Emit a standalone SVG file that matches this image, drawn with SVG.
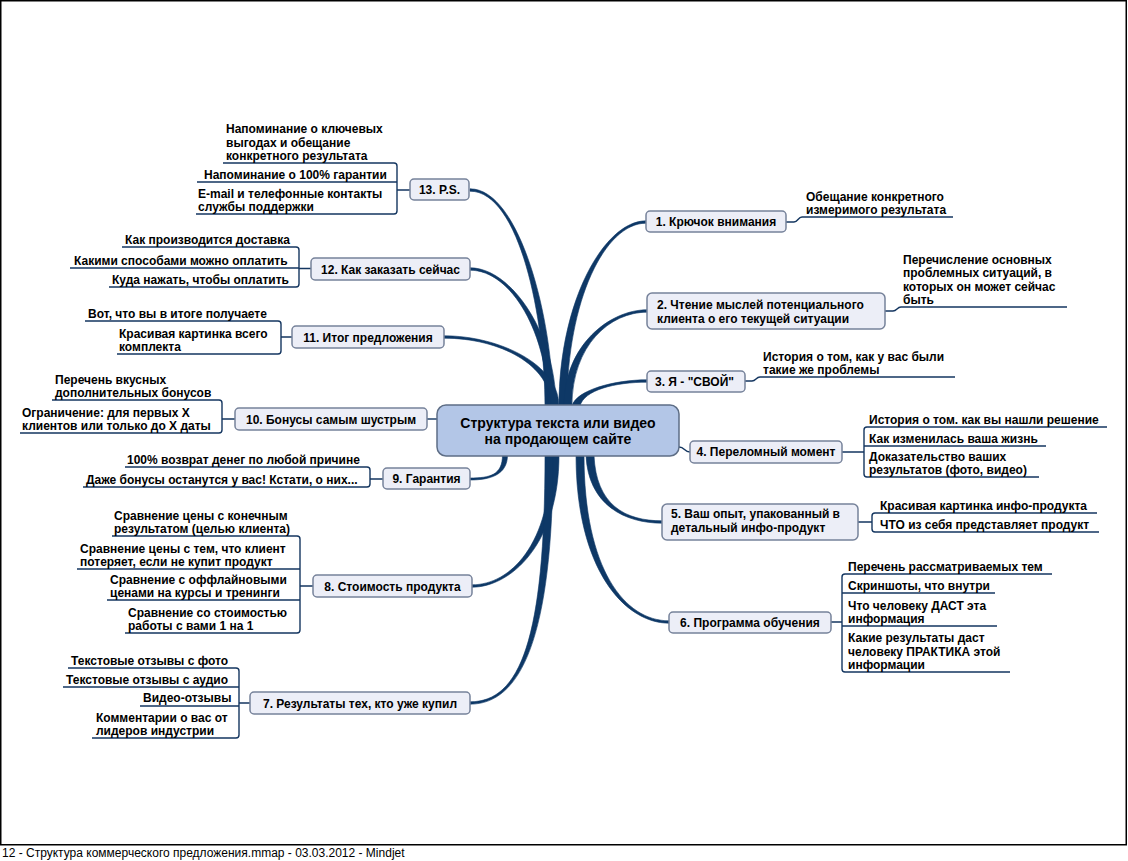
<svg xmlns="http://www.w3.org/2000/svg" width="1128" height="861" viewBox="0 0 1128 861">
<style>
text{font-family:"Liberation Sans",Arial,sans-serif;font-size:12px;font-weight:bold;fill:#000}
.c{text-anchor:middle}
.ctr{font-size:14px}
.foot{font-weight:normal;font-size:12px}
.box{fill:#eceef7;stroke:#76829a;stroke-width:1.5}
.cbox{fill:#b3c6e7;stroke:#5e6e86;stroke-width:1.5}
.ln{fill:none;stroke:#143660;stroke-width:1.4}
.br{fill:#0e3866;stroke:#0e3866;stroke-width:0.6}
</style>
<rect x="0.75" y="0.75" width="1125.5" height="844" fill="#fff" stroke="#000" stroke-width="1.5"/>
<g id="connectors">
<path class="br" d="M545,406 C545,320 520,191.2 470,191.2 L470,188.8 C520,188.8 553,320 553,406 Z"/>
<path class="br" d="M548,406 C548,335 512,270.2 470,270.2 L470,267.8 C512,267.8 556,335 556,406 Z"/>
<path class="br" d="M551,406 C551,365 500,338.2 444,338.2 L444,335.8 C500,335.8 559,365 559,406 Z"/>
<path class="br" d="M559,406 C559,300 605,220.8 646,220.8 L646,223.2 C605,223.2 567,300 567,406 Z"/>
<path class="br" d="M564,406 C564,345 610,309.8 647,309.8 L647,312.2 C610,312.2 572,345 572,406 Z"/>
<path class="br" d="M572,406 C576,390 615,379.8 647,379.8 L647,382.2 C615,382.2 584,390 580,406 Z"/>
<path class="br" d="M559,455 C559,545 510,587.2 472,587.2 L472,584.8 C510,584.8 551,545 551,455 Z"/>
<path class="br" d="M553,455 C553,640 520,704.2 470,704.2 L470,701.8 C520,701.8 545,640 545,455 Z"/>
<path class="br" d="M584,455 C584,570 625,620.8 669,620.8 L669,623.2 C625,623.2 576,570 576,455 Z"/>
<path class="br" d="M594,455 C596,505 625,520.8 662,520.8 L662,523.2 C625,523.2 588,505 586,455 Z"/>
<path class="br" d="M507.5,455 C507.5,475 490,480 470,480 L470,478 C490,478 502.5,475 502.5,455 Z"/>
<path class="ln" stroke-width="2" d="M427,419 H437"/>
<path class="ln" stroke-width="2" d="M679,447 C685,447 684,452 690,452"/>
<path class="ln" d="M223,163 H394 Q397,163 397,166 V211 Q397,214 394,214 H196 M197,182 H397 M397,190 H410"/>
<path class="ln" d="M122,247 H296 Q299,247 299,250 V284 Q299,287 296,287 H109 M70,268 H299 M299,268.5 H311"/>
<path class="ln" d="M85,321 H278 Q281,321 281,324 V351 Q281,354 278,354 H117 M281,337 H292"/>
<path class="ln" d="M52,400 H219 Q222,400 222,403 V430 Q222,433 219,433 H20 M222,419 H235"/>
<path class="ln" d="M125,467 H367 Q370,467 370,470 V484 Q370,487 367,487 H83 M370,479 H383"/>
<path class="ln" d="M112,536 H297 Q300,536 300,539 V630 Q300,633 297,633 H125 M77,569 H300 M107,600 H300 M300,586 H313"/>
<path class="ln" d="M68,668 H236 Q239,668 239,671 V735 Q239,738 236,738 H92 M63,687 H239 M140,706 H239 M239,703 H250"/>
<path class="ln" d="M786,222 H794 C798,222 798,217 802,217 H953"/>
<path class="ln" d="M885,311 H893 C897,311 897,307 901,307 H1067"/>
<path class="ln" d="M745,381 H752 C756,381 756,377 760,377 H955"/>
<path class="ln" d="M1107,427 H867 Q864,427 864,430 V474 Q864,477 867,477 H1039 M864,446 H1046 M842,452 H864"/>
<path class="ln" d="M1097,513 H875 Q872,513 872,516 V529 Q872,532 875,532 H1099 M858,522 H872"/>
<path class="ln" d="M1052,574 H845 Q842,574 842,577 V669 Q842,672 845,672 H1010 M842,593 H995 M842,626 H997 M831,622 H842"/>
</g>
<g id="center">
<rect class="cbox" x="437" y="405" width="242" height="51" rx="9"/>
<text class="c ctr" x="558" y="427.5">Структура текста или видео</text>
<text class="c ctr" x="558" y="443.5">на продающем сайте</text>
</g>
<g id="n1"><rect class="box" x="646" y="211" width="140" height="21" rx="4"/><text class="c" x="716" y="226">1. Крючок внимания</text></g>
<g id="n1s"><text x="806" y="200.5">Обещание конкретного</text><text x="806" y="214">измеримого результата</text></g>
<g id="n2"><rect class="box" x="647" y="293" width="238" height="36" rx="5"/><text x="657" y="309">2. Чтение мыслей потенциального</text><text x="657" y="322.5">клиента о его текущей ситуации</text></g>
<g id="n2s"><text x="903" y="263.5">Перечисление основных</text><text x="903" y="277">проблемных ситуаций, в</text><text x="903" y="290.5">которых он может сейчас</text><text x="903" y="304">быть</text></g>
<g id="n3"><rect class="box" x="647" y="371" width="98" height="21" rx="4"/><text x="655" y="386">3. Я - "СВОЙ"</text></g>
<g id="n3s"><text x="763" y="360.5">История о том, как у вас были</text><text x="763" y="374">такие же проблемы</text></g>
<g id="n4"><rect class="box" x="690" y="441" width="152" height="22" rx="4"/><text class="c" x="766" y="456">4. Переломный момент</text></g>
<g id="n4s"><text x="869" y="424">История о том. как вы нашли решение</text><text x="869" y="443">Как изменилась ваша жизнь</text><text x="869" y="460.5">Доказательство ваших</text><text x="869" y="474">результатов (фото, видео)</text></g>
<g id="n5"><rect class="box" x="662" y="504" width="196" height="36" rx="5"/><text x="671" y="518">5. Ваш опыт, упакованный в</text><text x="671" y="532">детальный инфо-продукт</text></g>
<g id="n5s"><text x="880" y="510">Красивая картинка инфо-продукта</text><text x="880" y="529">ЧТО из себя представляет продукт</text></g>
<g id="n6"><rect class="box" x="669" y="612" width="162" height="21" rx="4"/><text class="c" x="750" y="627">6. Программа обучения</text></g>
<g id="n6s"><text x="848" y="571">Перечень рассматриваемых тем</text><text x="848" y="590">Скриншоты, что внутри</text><text x="848" y="609.5">Что человеку ДАСТ эта</text><text x="848" y="623">информация</text><text x="848" y="642">Какие результаты даст</text><text x="848" y="655.5">человеку ПРАКТИКА этой</text><text x="848" y="669">информации</text></g>
<g id="n7"><rect class="box" x="250" y="692" width="220" height="22" rx="4"/><text class="c" x="360" y="707.5">7. Результаты тех, кто уже купил</text></g>
<g id="n7s"><text x="71" y="665">Текстовые отзывы с фото</text><text x="66" y="684">Текстовые отзывы с аудио</text><text x="143" y="702">Видео-отзывы</text><text x="96" y="721.5">Комментарии о вас от</text><text x="96" y="735">лидеров индустрии</text></g>
<g id="n8"><rect class="box" x="313" y="575" width="159" height="22" rx="4"/><text class="c" x="392.5" y="590.5">8. Стоимость продукта</text></g>
<g id="n8s"><text x="114" y="519.5">Сравнение цены с конечным</text><text x="114" y="533">результатом (целью клиента)</text><text x="80" y="552.5">Сравнение цены с тем, что клиент</text><text x="80" y="566">потеряет, если не купит продукт</text><text x="110" y="583.5">Сравнение с оффлайновыми</text><text x="110" y="597">ценами на курсы и тренинги</text><text x="128" y="616.5">Сравнение со стоимостью</text><text x="128" y="630">работы с вами 1 на 1</text></g>
<g id="n9"><rect class="box" x="383" y="468" width="87" height="21" rx="4"/><text class="c" x="426.5" y="483">9. Гарантия</text></g>
<g id="n9s"><text x="127" y="464">100% возврат денег по любой причине</text><text x="86" y="484">Даже бонусы останутся у вас! Кстати, о них...</text></g>
<g id="n10"><rect class="box" x="235" y="408" width="192" height="22" rx="4"/><text class="c" x="331" y="423.5">10. Бонусы самым шустрым</text></g>
<g id="n10s"><text x="55" y="383.5">Перечень вкусных</text><text x="55" y="397">дополнительных бонусов</text><text x="22" y="416.5">Ограничение: для первых X</text><text x="22" y="430">клиентов или только до X даты</text></g>
<g id="n11"><rect class="box" x="292" y="326" width="152" height="22" rx="4"/><text class="c" x="368" y="341.5">11. Итог предложения</text></g>
<g id="n11s"><text x="88" y="318">Вот, что вы в итоге получаете</text><text x="119" y="337.5">Красивая картинка всего</text><text x="119" y="351">комплекта</text></g>
<g id="n12"><rect class="box" x="311" y="258" width="159" height="22" rx="4"/><text class="c" x="390.5" y="273.5">12. Как заказать сейчас</text></g>
<g id="n12s"><text x="125" y="244">Как производится доставка</text><text x="74" y="264.5">Какими способами можно оплатить</text><text x="112" y="284">Куда нажать, чтобы оплатить</text></g>
<g id="n13"><rect class="box" x="410" y="179" width="59" height="21" rx="4"/><text class="c" x="439.5" y="194">13. P.S.</text></g>
<g id="n13s"><text x="226" y="133">Напоминание о ключевых</text><text x="226" y="146.5">выгодах и обещание</text><text x="226" y="160">конкретного результата</text><text x="204" y="179">Напоминание о 100% гарантии</text><text x="198" y="197.5">E-mail и телефонные контакты</text><text x="198" y="211">службы поддержки</text></g>
<text class="foot" x="2" y="857">12 - Структура коммерческого предложения.mmap - 03.03.2012 - Mindjet</text>
</svg>
